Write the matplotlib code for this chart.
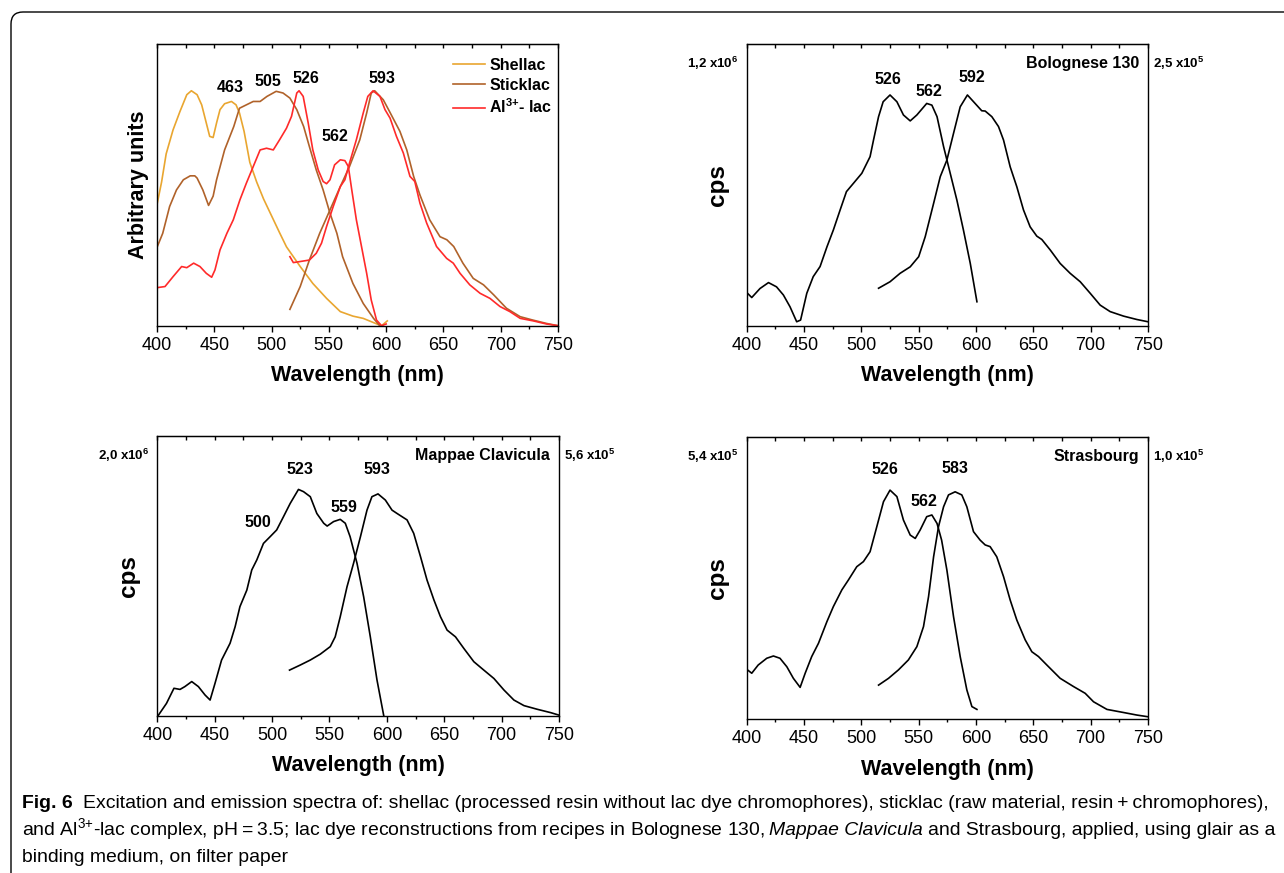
import numpy as np
import matplotlib
matplotlib.use("Agg")
import matplotlib.pyplot as plt
from matplotlib.ticker import MultipleLocator
from matplotlib.patches import FancyBboxPatch
from matplotlib.transforms import IdentityTransform

plt.rcParams['font.family'] = ['Liberation Sans', 'DejaVu Sans']
plt.rcParams['mathtext.default'] = 'regular'

# ---- panel a: shellac / sticklac / Al3+-lac (arbitrary units, 0..1 of axis height)
shellac_wl = [400, 404, 408, 414, 420, 426, 430, 435, 439, 443, 446, 449, 452, 455, 459, 465, 469, 472,
              476, 481, 487, 493, 500, 507, 513, 525, 536, 548, 560, 571, 580, 592, 596, 601]
shellac_int = [0.43, 0.51, 0.61, 0.695, 0.76, 0.82, 0.834, 0.82, 0.784, 0.72, 0.672, 0.668, 0.72, 0.767,
               0.788, 0.796, 0.784, 0.755, 0.69, 0.58, 0.51, 0.45, 0.39, 0.33, 0.28, 0.21, 0.15, 0.097,
               0.05, 0.034, 0.026, 0.006, 0.0, 0.017]

stick_ex_wl = [400, 405, 411, 417, 423, 429, 433, 435, 440, 445, 449, 452, 459, 467, 472, 478, 484, 490,
               496, 504, 510, 516, 522, 528, 533, 539, 545, 551, 557, 562, 571, 580, 589, 594]
stick_ex_int = [0.278, 0.328, 0.423, 0.482, 0.518, 0.532, 0.532, 0.524, 0.482, 0.427, 0.46, 0.518, 0.624,
                0.707, 0.772, 0.784, 0.796, 0.796, 0.814, 0.832, 0.826, 0.808, 0.767, 0.707, 0.636, 0.553,
                0.482, 0.399, 0.328, 0.245, 0.15, 0.079, 0.026, 0.002]
stick_em_wl = [516, 525, 533, 542, 551, 560, 568, 577, 583, 587, 590, 597.5, 603, 612, 618, 624, 629.5,
               638, 647, 653, 659, 667, 676, 685, 694, 705, 717, 728, 740, 750]
stick_em_int = [0.058, 0.139, 0.233, 0.328, 0.411, 0.494, 0.565, 0.66, 0.755, 0.826, 0.834, 0.802, 0.76,
                0.69, 0.624, 0.53, 0.464, 0.376, 0.316, 0.305, 0.281, 0.222, 0.168, 0.145, 0.109, 0.062,
                0.032, 0.02, 0.008, 0.0]

al_ex_wl = [400, 407, 414, 421.5, 426, 432, 437.5, 443, 447.7, 450.6, 455, 461, 466.6, 472.4, 478, 484,
            490, 495.6, 501.5, 507, 513, 517.4, 522, 524, 527.6, 532, 536, 540.7, 545, 548, 551, 555, 560,
            564, 567, 570, 574, 578.5, 583, 587, 591.6, 596, 600]
al_ex_int = [0.135, 0.139, 0.174, 0.21, 0.206, 0.222, 0.21, 0.186, 0.172, 0.198, 0.269, 0.328, 0.376,
             0.447, 0.506, 0.565, 0.624, 0.63, 0.624, 0.66, 0.701, 0.743, 0.826, 0.834, 0.814, 0.719, 0.624,
             0.553, 0.512, 0.504, 0.518, 0.571, 0.589, 0.586, 0.565, 0.482, 0.376, 0.281, 0.186, 0.091,
             0.02, 0.0, 0.006]
al_em_wl = [516, 519, 533, 539, 543.6, 548, 553.8, 560, 564, 568, 574, 580, 584, 588.6, 594.6, 599, 603.4,
            609, 615, 620.8, 625, 629.5, 635.4, 644, 652.8, 658.6, 664.5, 673, 682, 690.6, 699.4, 708, 717,
            728.5, 740, 750]
al_em_int = [0.245, 0.224, 0.233, 0.257, 0.293, 0.352, 0.423, 0.494, 0.518, 0.577, 0.66, 0.755, 0.814,
             0.834, 0.814, 0.767, 0.737, 0.672, 0.613, 0.53, 0.512, 0.435, 0.364, 0.281, 0.239, 0.222,
             0.186, 0.145, 0.115, 0.097, 0.068, 0.05, 0.026, 0.017, 0.006, 0.0]

# ---- panel b: Bolognese 130 (fraction of full scale)
bol_ex_wl = [400, 404.4, 411.6, 419, 426, 432, 437.8, 443.6, 447, 452.4, 458, 464, 470, 475.6, 481.5, 487,
             493, 500.4, 507.6, 510.6, 515, 519, 525, 531, 536.7, 542.6, 548.4, 557, 561.5, 566, 571.7,
             577.5, 583.3, 589, 595, 600.8]
bol_ex_int = [0.118, 0.1, 0.132, 0.153, 0.138, 0.109, 0.067, 0.014, 0.02, 0.115, 0.174, 0.21, 0.28, 0.34,
              0.411, 0.476, 0.505, 0.541, 0.6, 0.659, 0.742, 0.795, 0.819, 0.795, 0.748, 0.727, 0.748, 0.789,
              0.783, 0.742, 0.636, 0.541, 0.446, 0.34, 0.221, 0.085]
bol_em_wl = [515, 525, 533.8, 542.6, 550, 555.7, 563, 568.8, 574.6, 580.4, 586.2, 592.5, 599.2, 605, 608,
             613.8, 619.6, 624, 629.8, 635.6, 641.4, 647.2, 653, 657.4, 664.7, 673.4, 682.1, 690.9, 699.6,
             708.3, 717, 728.7, 740.3, 750]
bol_em_int = [0.133, 0.156, 0.186, 0.209, 0.245, 0.316, 0.434, 0.529, 0.588, 0.683, 0.777, 0.819, 0.789,
              0.763, 0.762, 0.742, 0.707, 0.659, 0.564, 0.493, 0.411, 0.351, 0.318, 0.306, 0.269, 0.221,
              0.186, 0.156, 0.115, 0.073, 0.05, 0.034, 0.022, 0.014]

# ---- panel c: Mappae Clavicula
map_ex_wl = [401, 408, 414.5, 419.8, 424, 430, 435.8, 441.6, 446, 450.3, 456, 463.4, 467.8, 472, 478,
             482.3, 486.7, 492.5, 498.3, 504, 510, 515.8, 523, 527.4, 533.3, 539, 545, 548, 553.6, 559.4,
             563.8, 568, 574, 579.8, 585.6, 591.4, 597.3]
map_ex_int = [0.002, 0.044, 0.098, 0.094, 0.104, 0.122, 0.104, 0.074, 0.056, 0.116, 0.199, 0.259, 0.318,
              0.39, 0.449, 0.521, 0.557, 0.616, 0.64, 0.664, 0.712, 0.759, 0.809, 0.801, 0.783, 0.723, 0.688,
              0.678, 0.694, 0.702, 0.688, 0.64, 0.545, 0.425, 0.282, 0.128, 0.0]
map_em_wl = [515.2, 524.5, 533.3, 542, 550.7, 555, 559.4, 565.3, 571, 577, 582.7, 587, 592.3, 598.7, 604.5,
             608.9, 617.6, 623.4, 629.3, 635, 641, 646.7, 652.5, 659.8, 667, 675.8, 684.5, 693.3, 702,
             710.7, 719.5, 731, 742.7, 750]
map_em_int = [0.163, 0.181, 0.199, 0.22, 0.247, 0.282, 0.354, 0.461, 0.545, 0.64, 0.735, 0.783, 0.793,
              0.771, 0.735, 0.723, 0.7, 0.652, 0.569, 0.485, 0.414, 0.354, 0.306, 0.282, 0.241, 0.193,
              0.163, 0.133, 0.092, 0.056, 0.036, 0.023, 0.011, 0.002]

# ---- panel d: Strasbourg
str_ex_wl = [400, 404.4, 410, 417.5, 423.3, 429, 435, 440.7, 446.6, 451, 456.7, 462.6, 470, 475.6, 483,
             488.7, 496, 501.8, 507.6, 513.5, 519.3, 525, 531, 536.7, 542.6, 547, 551.3, 557, 561.5, 566,
             570, 574.6, 580.4, 586.2, 592, 596.4, 600.8]
str_ex_int = [0.177, 0.163, 0.192, 0.216, 0.224, 0.216, 0.186, 0.145, 0.113, 0.163, 0.222, 0.269, 0.346,
              0.399, 0.458, 0.493, 0.54, 0.558, 0.593, 0.682, 0.77, 0.811, 0.788, 0.705, 0.652, 0.64, 0.67,
              0.717, 0.723, 0.693, 0.634, 0.528, 0.363, 0.222, 0.104, 0.045, 0.035]
str_em_wl = [515, 523.7, 532.4, 541, 548.4, 554.2, 558.6, 563, 567.3, 571.7, 576, 581.8, 587.6, 592, 597.8,
             603.6, 608, 612.3, 618.1, 624, 629.8, 635.6, 642.9, 648.7, 654.5, 661.8, 673.4, 685, 695.2,
             702.5, 714.2, 728.7, 740.3, 750]
str_em_int = [0.121, 0.145, 0.175, 0.21, 0.257, 0.328, 0.434, 0.575, 0.682, 0.752, 0.794, 0.805, 0.794,
              0.752, 0.664, 0.634, 0.617, 0.611, 0.575, 0.505, 0.422, 0.351, 0.281, 0.239, 0.222, 0.192,
              0.145, 0.116, 0.092, 0.062, 0.035, 0.024, 0.015, 0.009]

# peak labels
peaks_a = ["463", "505", "526", "562", "593"]
peaks_b = ["526", "562", "592"]
peaks_c = ["500", "523", "559", "593"]
peaks_d = ["526", "562", "583"]
# full-scale values (left = excitation, right = emission)
scale_b = ("1,2 x10$^{6}$", "2,5 x10$^{5}$")
scale_c = ("2,0 x10$^{6}$", "5,6 x10$^{5}$")
scale_d = ("5,4 x10$^{5}$", "1,0 x10$^{5}$")

c_shellac = "#E9A630"
c_stick = "#B0622A"
c_al = "#FF2A2A"

fig = plt.figure(figsize=(12.84, 8.73), dpi=100)
W, H = 1284, 873


def make_ax(l, r, t, b):
    ax = fig.add_axes([l / W, 1 - b / H, (r - l) / W, (b - t) / H])
    ax.set_xlim(400, 750)
    ax.set_ylim(0, 1)
    ax.xaxis.set_major_locator(MultipleLocator(50))
    ax.xaxis.set_minor_locator(MultipleLocator(25))
    ax.set_yticks([])
    ax.tick_params(axis='x', which='major', direction='out', length=4, width=1, labelsize=13, pad=4)
    ax.tick_params(axis='x', which='minor', direction='out', length=2.5, width=1)
    for s in ax.spines.values():
        s.set_linewidth(1.0)
    sec = ax.secondary_xaxis('top')
    sec.xaxis.set_major_locator(MultipleLocator(50))
    sec.xaxis.set_minor_locator(MultipleLocator(25))
    sec.tick_params(which='both', direction='in', length=3, width=1, labeltop=False)
    ax.set_xlabel("Wavelength (nm)", fontsize=15.5, fontweight='bold')
    return ax


def peak_labels(ax, labels, pos):
    for s, (x, y) in zip(labels, pos):
        ax.text(x, y, s, ha='center', va='center', fontsize=11.5, fontweight='bold')


# panel a
ax1 = make_ax(157, 558, 44, 325.7)
ax1.plot(shellac_wl, shellac_int, color=c_shellac, lw=1.2, label="Shellac")
ax1.plot(stick_ex_wl, stick_ex_int, color=c_stick, lw=1.2, label="Sticklac")
ax1.plot(stick_em_wl, stick_em_int, color=c_stick, lw=1.2)
ax1.plot(al_ex_wl, al_ex_int, color=c_al, lw=1.2, label="Al$^{3{+}}$- lac")
ax1.plot(al_em_wl, al_em_int, color=c_al, lw=1.2)
peak_labels(ax1, peaks_a, [(464, 0.845), (497, 0.866), (530, 0.877), (555, 0.67), (596, 0.877)])
ax1.set_ylabel("Arbitrary units", fontsize=15.5, fontweight='bold')
ax1.yaxis.set_label_coords(-0.02, 0.5)
ax1.xaxis.set_label_coords(0.5, -0.14)
leg = ax1.legend(loc='upper right', bbox_to_anchor=(0.985, 0.95), frameon=False, borderpad=0,
                 borderaxespad=0, handlelength=2.0, handletextpad=0.25, labelspacing=0.3,
                 prop={'size': 11.5, 'weight': 'bold'})

# panels b-d
panels = [
    ((746.7, 1148, 44, 325.7), bol_ex_wl, bol_ex_int, bol_em_wl, bol_em_int, peaks_b,
     [(523, 0.873), (559, 0.83), (596, 0.88)], "Bolognese 130", scale_b),
    ((157.3, 559, 436, 715.7), map_ex_wl, map_ex_int, map_em_wl, map_em_int, peaks_c,
     [(488, 0.69), (524.6, 0.881), (562.4, 0.745), (591.5, 0.881)], "Mappae Clavicula", scale_c),
    ((746.7, 1148, 436.7, 719.3), str_ex_wl, str_ex_int, str_em_wl, str_em_int, peaks_d,
     [(521, 0.885), (555, 0.77), (582, 0.888)], "Strasbourg", scale_d),
]
for rect, exw, exi, emw, emi, labs, pos, name, scale in panels:
    ax = make_ax(*rect)
    ax.plot(exw, exi, color='black', lw=1.2)
    ax.plot(emw, emi, color='black', lw=1.2)
    peak_labels(ax, labs, pos)
    ax.set_ylabel("cps", fontsize=17.5, fontweight='bold')
    ax.yaxis.set_label_coords(-0.044, 0.5)
    ax.xaxis.set_label_coords(0.5, -0.14)
    ax.text(0.978, 0.93, name, transform=ax.transAxes, ha='right', va='center',
            fontsize=11.5, fontweight='bold')
    ax.text(-0.02, 0.93, scale[0], transform=ax.transAxes, ha='right', va='center',
            fontsize=9.5, fontweight='bold')
    ax.text(1.012, 0.93, scale[1], transform=ax.transAxes, ha='left', va='center',
            fontsize=9.5, fontweight='bold')

# rounded frame (only top and left edges visible)
frame = FancyBboxPatch((11, -30), 1400, H - 12 + 30, boxstyle="round,pad=0,rounding_size=12",
                       transform=IdentityTransform(), fill=False, lw=1.0, ec='black')
fig.add_artist(frame)

# caption
cap_font = ['Liberation Sans', 'DejaVu Sans']
renderer = fig.canvas.get_renderer()

cap_lines = [
    (808, [("Fig. 6", {'fontweight': 'bold'}, 10),
           ("Excitation and emission spectra of: shellac (processed resin without lac dye chromophores), "
            "sticklac (raw material, resin\u2009+\u2009chromophores),", {}, 0)]),
    (835, [("and Al$^{3{+}}$-lac complex, pH\u2009=\u20093.5; lac dye reconstructions from recipes in "
            "Bolognese 130,", {}, 4.5),
           ("Mappae Clavicula", {'style': 'italic'}, 4.5),
           ("and Strasbourg, applied, using glair as a", {}, 0)]),
    (862, [("binding medium, on filter paper", {}, 0)]),
]


def caption_line(ypix, parts, size):
    x = 22 / W
    made = []
    for s, kw, gap in parts:
        t = fig.text(x, 1 - ypix / H, s, va='baseline', ha='left', fontsize=size, family=cap_font, **kw)
        made.append(t)
        bb = t.get_window_extent(renderer=renderer)
        x = bb.x1 / W + gap / W
    return made, x * W


# fit the first caption line to the width of the reference (22..1272 px)
probe, right = caption_line(cap_lines[0][0], cap_lines[0][1], 14)
for t in probe:
    t.remove()
cap_size = 14 * (1272 - 22 - 10) / (right - 22 - 10)
for ypix, parts in cap_lines:
    caption_line(ypix, parts, cap_size)

fig.savefig("out.png", dpi=100)
